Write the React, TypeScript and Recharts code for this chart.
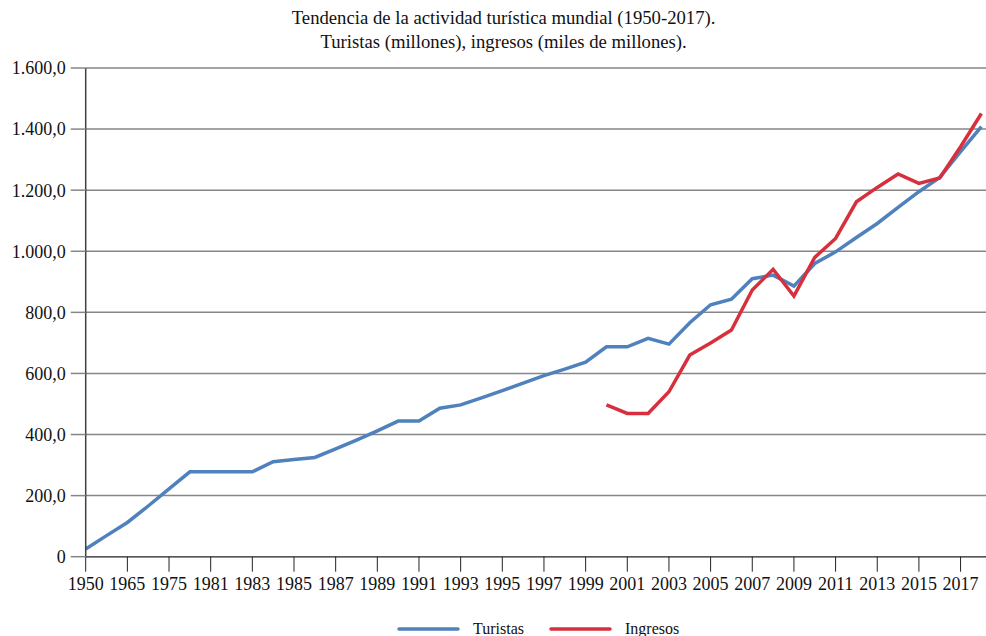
import React from 'react';
import { LineChart, Line, XAxis, YAxis, CartesianGrid } from 'recharts';

// Años (eje de categorías; se rotula uno de cada dos)
const years = [
  '1950', '1960', '1965', '1970', '1975', '1980',
  '1981', '1982', '1983', '1984', '1985', '1986', '1987', '1988', '1989', '1990',
  '1991', '1992', '1993', '1994', '1995', '1996', '1997', '1998', '1999', '2000',
  '2001', '2002', '2003', '2004', '2005', '2006', '2007', '2008', '2009', '2010',
  '2011', '2012', '2013', '2014', '2015', '2016', '2017', '2018',
];

// Turistas (millones)
const turistas = [
  25, 69, 112, 166, 222, 278,
  278, 278, 278, 311, 318, 325, 353, 382, 412, 444,
  444, 486, 497, 520, 544, 568, 593, 614, 637, 687,
  687, 715, 696, 766, 825, 843, 910, 922, 886, 960,
  998, 1045, 1091, 1144, 1195, 1242, 1326, 1408,
];

// Ingresos (miles de millones), sólo desde 2000
const ingresos: (number | null)[] = [
  null, null, null, null, null, null,
  null, null, null, null, null, null, null, null, null, null,
  null, null, null, null, null, null, null, null, null, 497,
  469, 469, 540, 660, 700, 742, 873, 941, 853, 980,
  1042, 1162, 1209, 1253, 1222, 1240, 1342, 1451,
];

const yTicks = [0, 200, 400, 600, 800, 1000, 1200, 1400, 1600];

const chartData = years.map((year, i) => ({
  year,
  turistas: turistas[i],
  ingresos: ingresos[i],
}));

const FONT = '"Liberation Serif", "Times New Roman", serif';
const BLUE = '#4f81bd';
const RED = '#d7303c';

// 1600 -> "1.600,0", 0 -> "0"
const formatY = (v: number) => {
  if (v === 0) return '0';
  const [int, dec] = v.toFixed(1).split('.');
  return `${int.replace(/\B(?=(\d{3})+(?!\d))/g, '.')},${dec}`;
};

export default function App() {
  return (
    <div style={{ position: 'absolute', left: 0, top: 0, width: 986, height: 636, background: '#fff' }}>
      <LineChart
        width={986}
        height={636}
        data={chartData}
        margin={{ top: 68, right: 0, left: 0, bottom: 39.3 }}
      >
        <CartesianGrid horizontal vertical={false} stroke="#868686" strokeWidth={1.5} />
        <XAxis
          dataKey="year"
          interval={1}
          height={40}
          padding={{ left: 0, right: 4.6 }}
          stroke="#595959"
          strokeWidth={1.5}
          tickSize={15}
          tickMargin={6}
          tickLine={{ stroke: '#222', strokeWidth: 1 }}
          tick={{ fill: '#111', fontSize: 18, fontFamily: FONT }}
        />
        <YAxis
          width={85.7}
          domain={[0, 1600]}
          ticks={yTicks}
          interval={0}
          tickFormatter={formatY}
          stroke="#404040"
          strokeWidth={1.5}
          tickSize={15}
          tickMargin={5}
          tickLine={{ stroke: '#868686', strokeWidth: 1.5 }}
          tick={{ fill: '#111', fontSize: 18, fontFamily: FONT }}
        />
        <Line
          type="linear"
          dataKey="turistas"
          stroke={BLUE}
          strokeWidth={3.5}
          dot={false}
          isAnimationActive={false}
        />
        <Line
          type="linear"
          dataKey="ingresos"
          stroke={RED}
          strokeWidth={3.5}
          dot={false}
          connectNulls={false}
          isAnimationActive={false}
        />
      </LineChart>

      {/* título y leyenda */}
      <svg
        width={986}
        height={636}
        style={{ position: 'absolute', left: 0, top: 0, pointerEvents: 'none' }}
        fontFamily={FONT}
      >
        <text x={503.6} y={24} textAnchor="middle" fontSize={18.7} fill="#111">
          Tendencia de la actividad turística mundial (1950-2017).
        </text>
        <text x={503.6} y={48} textAnchor="middle" fontSize={18.7} fill="#111">
          Turistas (millones), ingresos (miles de millones).
        </text>

        <line x1={399} y1={629} x2={458} y2={629} stroke={BLUE} strokeWidth={3.5} strokeLinecap="round" />
        <text x={473} y={634} fontSize={16} fill="#111">Turistas</text>
        <line x1={551} y1={629} x2={610} y2={629} stroke={RED} strokeWidth={3.5} strokeLinecap="round" />
        <text x={625} y={634} fontSize={16} fill="#111">Ingresos</text>
      </svg>
    </div>
  );
}
